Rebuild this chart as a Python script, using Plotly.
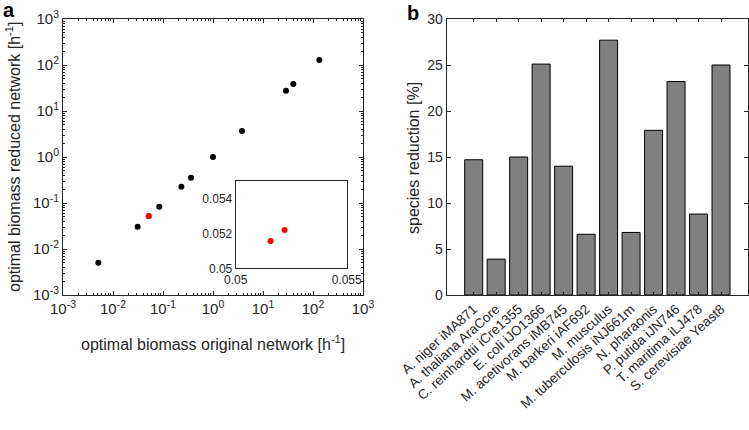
import plotly.graph_objects as go

W, H = 749, 430

# ---- data panel a ----
orig_black = [0.0051, 0.0311, 0.0845, 0.233, 0.363, 1.0, 3.8, 28.8, 40.4, 134]
red_black = [0.00505, 0.0306, 0.083, 0.226, 0.355, 1.0, 3.67, 27.6, 38.6, 128]
orig_red = [0.05157, 0.0522]
reduced_red = [0.05156, 0.0522]

# ---- data panel b ----
species = ["A. niger iMA871", "A. thaliana AraCore", "C. reinhardtii iCre1355",
           "E. coli iJO1366", "M. acetivorans iMB745", "M. barkeri iAF692",
           "M. musculus", "M. tuberculosis iNJ661m", "N. pharaonis",
           "P. putida iJN746", "T. maritima iLJ478", "S. cerevisiae Yeast8"]
reduction = [14.7, 3.9, 15.0, 25.1, 14.0, 6.6, 27.7, 6.8, 17.9, 23.2, 8.8, 25.0]

log_major = [1e-3, 1e-2, 1e-1, 1e0, 1e1, 1e2, 1e3]
log_labels = ["10<sup>-3</sup>", "10<sup>-2</sup>", "10<sup>-1</sup>", "10<sup>0</sup>",
              "10<sup>1</sup>", "10<sup>2</sup>", "10<sup>3</sup>"]
log_minor = [m * 10.0 ** e for e in range(-3, 3) for m in range(2, 10)]

inset_xt = [0.05, 0.055]
inset_xl = ["0.05", "0.055"]
inset_yt = [0.05, 0.052, 0.054]
inset_yl = ["0.05", "0.052", "0.054"]

def px(x):
    return x / W

def py(y):
    return 1 - y / H

AX = "#262626"
FONT = "Liberation Sans, Arial, sans-serif"

fig = go.Figure()

fig.add_trace(go.Scatter(x=orig_black, y=red_black, mode="markers",
                         marker=dict(color="black", size=6), xaxis="x", yaxis="y",
                         showlegend=False))
fig.add_trace(go.Scatter(x=orig_red, y=reduced_red, mode="markers",
                         marker=dict(color="red", size=6), xaxis="x", yaxis="y",
                         showlegend=False))
fig.add_trace(go.Scatter(x=orig_red, y=reduced_red, mode="markers",
                         marker=dict(color="red", size=6), xaxis="x3", yaxis="y3",
                         showlegend=False))
fig.add_trace(go.Bar(x=list(range(len(species))), y=reduction, width=0.8,
                     marker=dict(color="#808080", line=dict(color="black", width=1)),
                     xaxis="x2", yaxis="y2", showlegend=False))

common_log = dict(type="log", range=[-3, 3], showline=True, linecolor=AX, linewidth=1,
                  mirror="ticks", ticks="inside", ticklen=4, tickcolor=AX,
                  tickmode="array", tickvals=log_major, ticktext=log_labels,
                  showgrid=False, zeroline=False, automargin=False,
                  tickfont=dict(size=15, color=AX, family=FONT),
                  minor=dict(ticks="inside", ticklen=2, tickcolor=AX,
                             tickmode="array", tickvals=log_minor, showgrid=False))

fig.update_layout(
    width=W, height=H,
    margin=dict(l=0, r=0, t=0, b=0),
    paper_bgcolor="white", plot_bgcolor="white",
    font=dict(family=FONT, color=AX),
    xaxis=dict(domain=[px(63), px(363)], anchor="y", **common_log),
    yaxis=dict(domain=[py(295), py(19)], anchor="x", **common_log),
    xaxis3=dict(domain=[px(235.7), px(346.7)], anchor="y3", range=[0.05, 0.055],
                showline=True, mirror=True, linecolor=AX, linewidth=1, ticks="",
                tickmode="array", tickvals=inset_xt, ticktext=inset_xl,
                showgrid=False, zeroline=False, automargin=False,
                tickfont=dict(size=12, color=AX, family=FONT)),
    yaxis3=dict(domain=[py(268.3), py(181)], anchor="x3", range=[0.05, 0.055],
                showline=True, mirror=True, linecolor=AX, linewidth=1, ticks="",
                tickmode="array", tickvals=inset_yt, ticktext=inset_yl,
                showgrid=False, zeroline=False, automargin=False,
                tickfont=dict(size=12, color=AX, family=FONT)),
    xaxis2=dict(domain=[px(446.7), px(748)], anchor="y2", range=[-1.2, 12.2],
                showline=True, mirror="ticks", linecolor=AX, linewidth=1,
                ticks="inside", ticklen=3, tickcolor=AX,
                tickmode="array", tickvals=list(range(len(species))), ticktext=species,
                tickangle=-42, showgrid=False, zeroline=False, automargin=False,
                tickfont=dict(size=13.5, color=AX, family=FONT)),
    yaxis2=dict(domain=[py(295), py(19)], anchor="x2", range=[0, 30],
                showline=True, mirror="ticks", linecolor=AX, linewidth=1,
                ticks="inside", ticklen=4, tickcolor=AX, dtick=5,
                showgrid=False, zeroline=False, automargin=False,
                tickfont=dict(size=14, color=AX, family=FONT)),
)

ann = [
    dict(text="optimal biomass original network [h<sup>-1</sup>]", x=px(213), y=py(343),
         font=dict(size=16)),
    dict(text="optimal biomass reduced network [h<sup>-1</sup>]", x=px(13), y=py(157),
         textangle=-90, font=dict(size=16)),
    dict(text="species reduction [%]", x=px(413), y=py(158), textangle=-90,
         font=dict(size=16)),
    dict(text="<b>a</b>", x=px(9), y=py(10), font=dict(size=20, color="black")),
    dict(text="<b>b</b>", x=px(413), y=py(13), font=dict(size=20, color="black")),
]
for a in ann:
    a.update(xref="paper", yref="paper", showarrow=False, xanchor="center", yanchor="middle")
    a.setdefault("font", {})
    a["font"].setdefault("color", AX)
    a["font"]["family"] = FONT
    fig.add_annotation(**a)

fig.write_html("out.html", config={"displayModeBar": False},
               post_script="document.body.style.margin='0';document.body.style.padding='0';")
